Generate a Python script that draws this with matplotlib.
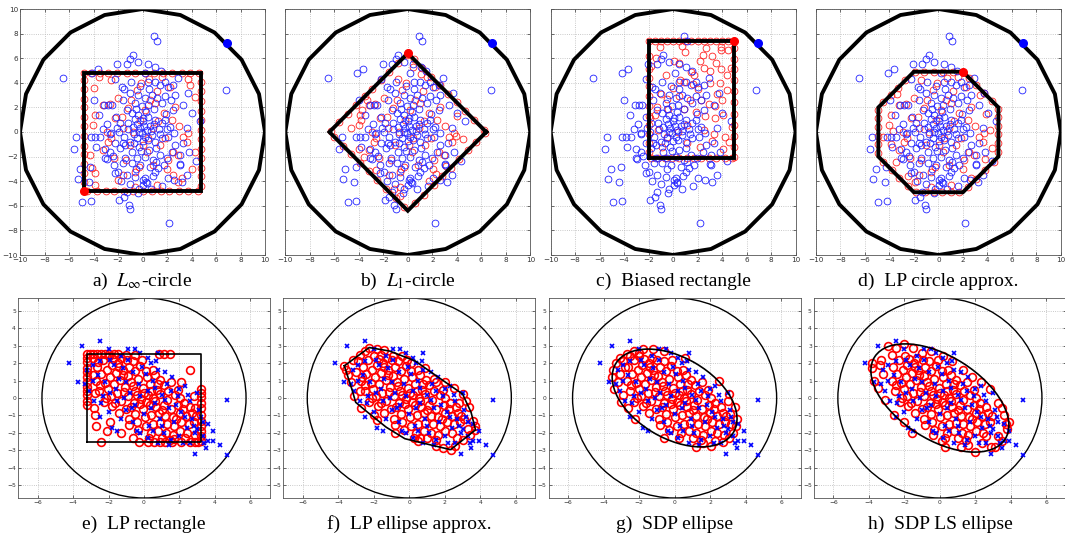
import numpy as np
import matplotlib.pyplot as plt
from matplotlib.patches import Circle, Ellipse

plt.rcParams['mathtext.fontset'] = 'stix'

# ---------------- top row: samples in the [-10, 10] box ----------------
top_blue = [
    (0.9, 7.8), (1.15, 7.4), (-0.8, 6.3), (-1.0, 5.95), (-0.35, 5.7), (-1.3, 5.5), (-2.05, 5.5),
    (0.45, 5.55), (1.05, 5.3), (-3.65, 5.1), (-4.15, 4.8), (-6.5, 4.35), (6.8, 3.4),
    (-5.4, -0.4), (-5.6, -1.4), (-5.1, -3.0), (-5.3, -3.8), (-4.4, -4.1), (-4.25, -2.85),
    (-4.9, -5.7), (-4.2, -5.6), (-1.9, -5.55), (-1.5, -5.3), (-1.3, -4.9), (-1.1, -5.95),
    (-1.0, -6.3), (-0.4, -4.95), (2.2, -7.4), (0.05, -4.3), (0.3, -4.05), (0.2, -3.7),
    (2.05, -3.75), (2.6, -3.9), (3.2, -4.1), (3.6, -3.5), (3.05, -2.6),
    (-0.94, 4.03), (-1.7, 3.68), (-1.48, 3.46), (0.48, 4.09), (1.02, 4.07), (1.43, 3.82),
    (1.84, 4.03), (2.06, 3.68), (2.52, 3.82), (2.66, 3.0), (4.02, 1.52), (3.34, 2.2),
    (2.52, 1.79), (-2.5, 2.2), (-2.79, 2.2), (-3.11, 2.21), (-0.34, 3.0), (-0.61, 2.33),
    (0.21, 2.73), (0.75, 3.0), (1.16, 2.73), (1.57, 2.33), (-1.29, 1.79), (-0.88, 1.51),
    (-0.34, 1.38), (0.07, 1.11), (0.48, 1.24), (1.02, 0.97), (1.57, 0.7), (1.84, 0.97),
    (2.25, 0.43), (-1.83, 0.7), (-2.1, 0.3), (-2.65, -0.19), (-3.47, -0.38), (-3.87, -0.38),
    (-4.2, -0.38), (-3.78, -1.22), (-3.06, -1.39), (-2.92, -2.2), (-2.6, -0.1), (-3.06, -2.14),
    (-2.65, -1.6), (-1.43, -1.06), (-1.02, -0.79), (-0.47, -0.52), (-0.07, -0.11), (0.34, 0.16),
    (0.75, -0.25), (1.02, -0.79), (1.57, -0.52), (2.11, -0.38), (2.66, -1.06), (3.06, -1.87),
    (3.06, -2.69), (1.98, -2.14), (1.43, -1.87), (0.89, -2.28), (0.21, -2.01), (-0.47, -2.14),
    (-0.88, -2.55), (-1.56, -2.55), (-1.97, -3.23), (-2.24, -3.36), (-1.29, -3.5), (-0.61, -3.64),
    (0.07, -3.91), (0.34, -4.18), (1.02, -3.23), (1.3, -2.96), (-1.02, -4.2),
    (-0.41, 0.62), (0.03, 0.88), (-0.22, 0.31), (0.42, -0.63), (-0.73, -0.18), (-1.18, 0.24),
    (-1.52, -0.41), (0.63, 0.52), (1.31, 0.27), (1.09, -1.33), (0.52, -1.48), (-0.28, -1.21),
    (-0.83, -1.62), (-1.81, -1.27), (-2.21, -0.88), (-1.92, 0.04), (-0.62, 1.02), (0.31, 1.63),
    (0.92, 1.88), (-0.08, 2.12), (-1.62, 2.61), (1.93, 1.47), (2.61, -0.12), (3.31, -0.88),
    (2.42, -1.63), (1.72, -2.71), (0.61, -2.83), (-0.19, -2.72), (-1.41, -2.08), (-2.42, -1.93),
    (-2.88, 0.62), (-1.03, 3.18), (0.52, 3.52), (1.83, 2.92), (3.62, 0.31), (3.81, -1.62),
    (-0.52, -3.02), (0.83, -3.61), (-1.72, -4.02), (-0.31, -4.62), (1.62, -4.38), (-3.52, 1.42),
    (-3.98, 2.61), (-2.22, 4.32), (0.18, 4.82), (1.52, 4.98), (2.91, 4.41), (3.72, 3.18),
    (4.38, -2.32), (4.71, 0.88), (-2.18, 1.22), (-0.68, -0.91), (0.22, -0.38), (0.71, 0.08),
    (-0.32, 0.02), (0.02, -0.71), (-1.21, 0.72), (-0.52, 1.83), (0.12, 0.52), (1.42, -0.18),
    (-1.62, -0.92), (-0.11, -1.52), (0.93, 0.61), (-0.81, 0.43), (2.02, 0.21), (0.41, 2.21),
    (-2.31, -2.71), (1.12, -2.41), (2.31, 2.61), (-3.22, 0.21), (-0.18, 3.71), (0.72, -4.62),
]
far_point = (6.9, 7.2)
outer_radius = 10.0
outer_sides = 20

# shared interior points of the symmetric solutions
red_top_core = [
    (-1.97, 2.73), (-2.65, 2.25), (-3.2, 2.2), (-3.87, 1.4), (-4.01, 0.57), (-2.92, 0.02),
    (-2.79, -0.79), (-3.2, -1.47), (-1.56, -3.5), (-0.61, -3.23), (-0.61, -4.45), (2.93, -1.87),
    (2.52, -1.6), (3.34, -0.38), (3.74, -0.11), (3.61, -0.79), (2.38, 0.97), (2.66, 2.06),
    (2.25, 3.68), (1.57, 4.5), (0.62, 2.6), (1.02, 2.33), (-0.47, 3.41), (0.21, 1.79),
    (-0.2, 0.97), (-0.75, 0.02), (-1.02, -1.06), (0.07, -1.06), (0.34, -1.6), (1.43, -1.06),
    (-2.24, 1.11), (-1.7, 1.24), (1.87, -0.46), (-1.38, -2.27), (0.83, -2.71), (1.72, 1.58),
    (-0.31, -2.84), (2.04, -3.02), (-2.33, -2.12), (0.88, 0.31), (-1.18, 1.96), (1.21, 3.37),
    (-2.58, -0.52), (3.02, 0.48), (-0.12, 4.02), (-1.6, 0.35), (0.45, -0.5), (1.3, 0.9),
    (-0.9, 2.6), (2.1, -2.3),
]

# a) square |x|, |y| <= 4.8
sq_half = 4.8
red_a = red_top_core + [
    (-3.52, 4.44), (3.88, 3.82), (4.29, 2.87), (-4.09, -2.96), (-3.87, -3.36), (-1.97, -3.91),
    (2.52, -3.5), (3.2, -3.77), (2.93, -4.04), (4.02, -3.0), (-4.0, 3.6), (3.7, 4.3),
    (-3.9, -4.3), (4.3, -1.6), (-4.3, -1.9), (1.2, -4.3), (-2.6, 4.2), (0.5, 4.3),
    (-4.8, 4.8), (-4.2, 4.8), (-3.5, 4.8), (-2.8, 4.8), (-2.1, 4.8), (-1.3, 4.8), (-0.6, 4.8),
    (0.2, 4.8), (0.9, 4.8), (1.7, 4.8), (2.4, 4.8), (3.2, 4.8), (3.9, 4.8), (4.6, 4.8),
    (-4.5, -4.8), (-3.7, -4.8), (-3.0, -4.8), (-2.3, -4.8), (-1.5, -4.8), (-0.8, -4.8),
    (0.0, -4.8), (0.8, -4.8), (1.5, -4.8), (2.2, -4.8), (3.0, -4.8), (3.7, -4.8), (4.5, -4.8),
    (-4.8, -4.1), (-4.8, -3.3), (-4.8, -2.6), (-4.8, -1.8), (-4.8, -1.1), (-4.8, -0.3),
    (-4.8, 0.5), (-4.8, 1.2), (-4.8, 2.0), (-4.8, 2.7), (-4.8, 3.5), (-4.8, 4.2),
    (4.8, -4.4), (4.8, -3.6), (4.8, -2.9), (4.8, -2.1), (4.8, -1.4), (4.8, -0.6),
    (4.8, 0.2), (4.8, 1.0), (4.8, 1.7), (4.8, 2.5), (4.8, 3.3), (4.8, 4.1),
]
dot_a = (-4.8, -4.8)

# b) diamond |x| + |y| <= 6.4
dia_r = 6.4
red_b = red_top_core + [
    (-3.8, 1.0), (-3.75, 1.8), (-3.3, 2.6), (-4.6, 0.3), (-4.0, -1.4), (-3.6, -2.0),
    (-2.6, -3.1), (-1.1, -4.6), (-0.6, -5.2), (3.9, -0.3), (4.5, -0.6), (3.1, -2.8),
    (2.3, -3.4), (1.1, 4.7), (-0.8, 4.3), (0.4, 5.3), (4.0, 1.3), (1.7, -4.0),
    (-6.3, 0.1), (-5.6, 0.8), (-4.9, 1.5), (-4.2, 2.2), (-3.5, 2.9), (-2.9, 3.5), (-2.2, 4.2),
    (-1.5, 4.9), (-0.8, 5.6), (-0.1, 6.3),
    (0.5, 5.9), (1.2, 5.2), (1.9, 4.5), (2.6, 3.8), (3.3, 3.1), (4.0, 2.4), (4.7, 1.7),
    (5.4, 1.0), (6.2, 0.2),
    (6.3, -0.1), (5.6, -0.8), (4.9, -1.5), (4.2, -2.2), (3.5, -2.9), (2.8, -3.6), (2.1, -4.3),
    (1.3, -5.1), (0.6, -5.8),
    (-0.3, -6.1), (-1.0, -5.4), (-1.8, -4.6), (-2.5, -3.9), (-3.2, -3.2), (-3.9, -2.5),
    (-4.6, -1.8), (-5.3, -1.1), (-6.0, -0.4),
]
dot_b = (0.0, 6.4)

# c) biased rectangle
rect_c = (-2.0, 5.0, -2.1, 7.4)
red_c = [
    (1.0, 6.5), (0.1, 5.8), (-1.36, 6.0), (-1.8, 5.4), (0.46, 5.6), (2.2, 5.8), (3.2, 6.2),
    (3.9, 6.7), (3.95, 6.9), (2.7, 6.8), (4.5, 6.7), (4.7, 5.2), (3.9, 5.1), (4.4, 4.6),
    (3.0, 5.0), (2.5, 5.2), (1.5, 4.9), (1.7, 4.6), (0.6, 4.2), (0.9, 4.1), (0.0, 3.6),
    (-1.0, 3.1), (2.0, 3.5), (3.0, 4.0), (3.8, 4.0), (4.4, 3.4), (3.6, 3.1), (4.0, 2.6),
    (3.4, 2.1), (2.9, 2.3), (2.3, 2.6), (1.4, 2.6), (0.5, 2.9), (-0.5, 2.7), (-1.3, 2.0),
    (-1.5, 1.4), (-0.4, 1.9), (0.9, 1.9), (1.9, 1.6), (2.6, 1.3), (3.4, 1.1), (4.1, 1.4),
    (4.8, 0.4), (4.2, -0.4), (3.3, -0.2), (2.5, 0.2), (1.1, 0.6), (0.4, 0.0), (-0.5, -0.4),
    (-1.2, 0.2), (-0.9, -1.2), (1.1, -0.9), (2.2, -1.2), (3.2, -0.7), (4.1, -1.4), (4.6, -0.8),
    (-1.85, 1.1), (1.6, 3.9), (-0.6, 4.6), (2.4, 6.3), (-1.1, 6.9), (0.7, 7.0), (3.5, 5.6),
    (-2.0, 7.4), (-1.5, 7.4), (-1.0, 7.4), (-0.5, 7.4), (0.0, 7.4), (0.5, 7.4), (1.0, 7.4),
    (1.5, 7.4), (2.0, 7.4), (2.5, 7.4), (3.0, 7.4), (3.5, 7.4), (4.0, 7.4), (4.5, 7.4),
    (-1.8, -2.1), (-1.2, -2.1), (-0.7, -2.1), (-0.1, -2.1), (0.5, -2.1), (1.1, -2.1),
    (1.7, -2.1), (2.3, -2.1), (2.9, -2.1), (3.5, -2.1), (4.2, -2.1), (4.8, -2.1),
    (-2.0, -1.6), (-2.0, -0.9), (-2.0, -0.2), (-2.0, 0.6), (-2.0, 1.3), (-2.0, 2.1),
    (-2.0, 2.9), (-2.0, 3.7), (-2.0, 4.4), (-2.0, 5.1), (-2.0, 6.2),
    (5.0, 6.8), (5.0, 5.9), (5.0, 5.1), (5.0, 4.2), (5.0, 3.3), (5.0, 2.4), (5.0, 1.5),
    (5.0, 0.6), (5.0, -0.3), (5.0, -1.2), (5.0, -2.0),
]
dot_c = (5.0, 7.4)

# d) octagon: |x|, |y| <= 4.9, |x| + |y| <= 6.9
oct_half, oct_cut = 4.9, 6.9
red_d = red_top_core + [
    (-3.7, 0.1), (-4.5, -0.4), (-3.9, -1.0), (-3.5, -2.4), (-2.5, -3.6), (-1.9, -4.1),
    (3.9, 1.5), (4.2, 0.2), (3.8, -2.2), (2.7, -3.7), (1.0, -4.3), (-1.4, 4.2), (0.7, 4.4),
    (3.4, 3.0), (-3.4, 3.1), (4.4, -1.3),
    (-1.9, 4.9), (-1.2, 4.9), (-0.4, 4.9), (0.4, 4.9), (1.2, 4.9),
    (-4.5, 2.4), (-3.9, 3.0), (-3.3, 3.6), (-2.7, 4.2),
    (-4.9, -1.7), (-4.9, -1.0), (-4.9, -0.3), (-4.9, 0.4), (-4.9, 1.1), (-4.9, 1.8),
    (-4.5, -2.4), (-3.8, -3.1), (-3.2, -3.7), (-2.5, -4.4),
    (-1.8, -4.9), (-1.1, -4.9), (-0.4, -4.9), (0.3, -4.9), (1.0, -4.9), (1.7, -4.9),
    (2.4, -4.5), (3.1, -3.8), (3.8, -3.1), (4.5, -2.4),
    (4.9, -1.6), (4.9, -0.9), (4.9, -0.2), (4.9, 0.5), (4.9, 1.2), (4.9, 1.9),
    (2.5, 4.4), (3.1, 3.8), (3.7, 3.2), (4.4, 2.5),
]
dot_d = (2.0, 4.9)

# ---------------- bottom row: samples in the [-7, 7] box ----------------
bot_blue = [
    (-4.2, 2.0), (-3.5, 3.0), (-2.5, 3.3), (-2.0, 2.8), (-1.9, 2.2), (-1.3, 2.4), (-0.9, 2.8),
    (-0.5, 2.8), (-0.2, 2.6), (0.2, 2.3), (0.8, 2.6), (0.4, 2.0), (-3.7, 0.9), (-3.2, 1.6),
    (-2.9, 1.9), (-2.6, 1.3), (-3.1, 0.4), (-2.8, -0.2), (-2.5, -1.1), (-2.4, -0.3), (-2.0, -0.8),
    (-1.8, -1.7), (-1.6, 0.5), (-1.4, 1.1), (-1.2, 1.7), (-1.0, 0.9), (-0.8, 0.3), (-0.6, 1.5),
    (-0.5, -0.4), (-0.3, 0.8), (-0.1, 1.8), (0.0, -0.9), (0.2, 0.4), (0.3, -1.6), (0.5, 1.0),
    (0.6, -0.3), (0.8, 1.6), (0.9, -1.2), (1.0, 0.2), (1.1, -2.0), (1.3, 0.8), (1.4, -0.6),
    (1.5, -2.4), (1.6, 1.2), (1.7, -1.4), (1.9, 0.1), (2.0, -2.2), (2.1, -0.8), (2.3, 0.7),
    (2.4, -1.7), (2.6, -0.2), (2.7, -1.2), (2.9, -2.0), (3.0, 0.3), (3.1, -0.7), (3.3, -1.4),
    (3.4, -2.6), (3.5, -2.9), (3.6, -2.45), (3.9, -1.9), (3.9, -2.45), (4.3, -2.7), (4.7, -3.3),
    (4.7, -0.1), (2.9, -3.2), (3.3, -2.2), (2.2, -2.6), (0.8, -2.6), (0.2, -2.3), (-0.2, -2.0),
    (-0.6, -1.4), (-1.0, -0.7), (-1.3, -1.2), (-1.5, -0.2), (-1.9, 0.3), (-2.2, 0.9), (-2.5, 2.1),
    (-1.7, 1.9), (-0.9, 2.2), (0.1, 1.4), (0.6, 0.6), (1.2, -0.1), (1.8, -0.4), (2.3, -1.1),
    (2.8, -1.6), (3.2, -1.1), (0.4, -0.6), (-0.2, 0.1), (-0.7, -0.6), (1.5, 0.4), (2.5, 0.2),
    (3.0, -1.8), (1.0, -1.6), (-0.4, -1.9), (-1.1, 0.0), (-2.3, 0.1), (-2.9, 1.0), (-3.3, 0.8),
    (0.7, 2.1), (1.2, 1.5), (2.0, 0.5), (1.4, -2.7), (0.5, -1.9), (-1.5, -1.9), (3.6, -1.5),
    (2.6, -2.6),
]
outer_r_bot = 5.75

# interior points shared by every bottom solution
red_bot_core = [
    (-2.63, 1.77), (-2.31, 2.18), (-1.98, 2.41), (-1.72, 2.27), (-2.42, 1.38), (-2.08, 1.63),
    (-1.83, 1.92), (-1.47, 2.03), (-1.28, 2.31), (-0.97, 2.18), (-2.71, 0.96), (-2.17, 0.88),
    (-1.92, 1.23), (-1.58, 1.41), (-1.21, 1.62), (-0.83, 1.79), (-0.61, 2.12), (-2.52, 0.38),
    (-2.03, 0.52), (-1.68, 0.81), (-1.33, 1.02), (-0.92, 1.28), (-0.48, 1.53), (-0.21, 1.82),
    (0.12, 1.58), (-2.27, -0.21), (-1.88, 0.12), (-1.52, 0.28), (-1.07, 0.61), (-0.72, 0.93),
    (-0.31, 1.08), (0.18, 1.22), (0.63, 1.31), (0.92, 1.03), (-1.78, -0.47), (-1.31, -0.18),
    (-0.88, 0.13), (-0.52, 0.42), (-0.07, 0.58), (0.33, 0.81), (0.72, 0.48), (1.13, 0.72),
    (1.38, 0.41), (-1.42, -0.88), (-1.02, -0.62), (-0.58, -0.31), (-0.17, -0.08), (0.22, 0.18),
    (0.53, 0.02), (0.91, 0.23), (1.28, -0.12), (1.72, 0.18), (2.03, -0.02), (-0.87, -1.18),
    (-0.48, -0.92), (-0.08, -0.61), (0.31, -0.38), (0.68, -0.52), (1.12, -0.38), (1.52, -0.62),
    (1.93, -0.41), (2.28, -0.28), (2.61, -0.52), (-0.42, -1.38), (0.03, -1.08), (0.42, -0.98),
    (0.82, -0.88), (1.21, -1.02), (1.63, -1.08), (2.02, -0.88), (2.38, -1.03), (2.72, -0.87),
    (0.12, -1.62), (0.51, -1.48), (0.88, -1.41), (1.32, -1.52), (1.71, -1.62), (2.11, -1.38),
    (2.52, -1.51), (2.83, -1.38), (0.38, -2.02), (0.81, -1.88), (1.22, -2.03), (1.61, -2.12),
    (2.03, -1.91), (2.41, -2.01), (1.02, -2.28), (1.48, -2.41), (-0.22, -0.32), (0.13, -0.21),
    (-0.41, 0.18), (0.02, 0.31), (0.41, 0.42), (-0.73, -0.52), (0.62, -0.18), (-1.13, 0.32),
    (1.02, -0.68), (-2.12, 0.02), (-0.31, -1.82), (-0.82, -1.58), (2.91, -1.02), (2.22, -0.61),
    (-1.62, -0.31), (-1.18, 1.31), (0.48, 1.62), (1.82, -1.22), (-0.12, 2.21), (1.52, 0.92),
    (-2.48, 0.72), (0.27, -2.28), (1.91, 0.48), (-1.41, 1.78), (-0.63, 0.68), (0.78, 0.83),
]

# e) rectangle |x| <= 3.2, |y| <= 2.55
rect_e = (-3.2, 3.2, -2.55, 2.55)
red_e = red_bot_core + [
    (-3.2, 2.55), (-3.2, 2.3), (-3.2, 2.05), (-3.2, 1.75), (-3.2, 1.5), (-3.2, 1.2), (-3.2, 0.9),
    (-3.2, 0.65), (-3.2, 0.4), (-3.2, 0.15), (-3.2, -0.15), (-3.2, -0.4),
    (-3.05, 2.55), (-2.85, 2.55), (-2.65, 2.55), (-2.45, 2.55), (-2.2, 2.55), (-1.95, 2.55),
    (-1.7, 2.55), (-1.45, 2.55), (0.85, 2.55), (1.1, 2.55), (1.45, 2.55),
    (3.2, 0.5), (3.2, 0.3), (3.2, 0.05), (3.2, -0.3), (3.2, -0.6), (3.2, -0.95), (3.2, -1.3),
    (3.2, -1.6), (3.2, -1.9), (3.2, -2.2), (3.2, -2.45),
    (-2.4, -2.55), (-0.3, -2.55), (0.2, -2.55), (0.55, -2.55), (0.9, -2.55), (1.2, -2.55),
    (1.6, -2.55), (2.1, -2.55), (2.6, -2.55), (2.85, -2.55), (3.05, -2.55),
    (-2.85, 2.3), (-2.6, 2.05), (-2.9, 1.3), (-2.75, 0.3), (-2.8, -0.55), (-2.75, -1.0),
    (-2.7, -1.6), (-2.1, -1.9), (2.6, 1.6), (2.1, 0.9), (2.8, 0.1), (2.9, -0.6), (2.85, -2.1),
    (2.3, -2.3), (-1.9, -1.4), (-1.3, -2.0), (-0.6, -2.3), (1.7, -2.35), (-0.5, 2.5), (-1.0, 2.45),
]

# f) polygonal ellipse approximation
poly_f = [
    (-3.66, 1.85), (-2.26, 2.9), (-1.11, 2.7), (0.33, 2.13), (1.47, 1.31), (3.0, 0.23),
    (3.48, -0.82), (3.73, -1.83), (2.33, -2.97), (1.09, -2.67), (-0.25, -2.34), (-1.3, -1.68),
    (-2.35, -0.82), (-3.02, -0.25), (-3.21, 0.42),
]
red_f = red_bot_core + [
    (-3.66, 1.85), (-3.3, 0.9), (-3.45, 1.3), (-3.55, 1.6), (-3.2, 2.2), (-2.8, 2.5),
    (-2.5, 2.7), (-2.26, 2.9), (-1.8, 2.82), (-1.4, 2.75), (-0.4, 2.42), (0.9, 1.72),
    (2.0, 0.93), (2.5, 0.58), (3.0, 0.23), (3.2, -0.2), (3.35, -0.5), (3.6, -1.3), (3.7, -1.6),
    (3.73, -1.83), (3.4, -2.1), (3.0, -2.42), (2.6, -2.75), (2.33, -2.97), (1.9, -2.86),
    (1.5, -2.77), (0.5, -2.5), (-0.8, -2.02), (-1.8, -1.27), (-2.7, -0.55), (-3.1, 0.1),
    (-3.0, 1.5), (-2.9, 2.1), (-2.65, 1.2), (-2.8, 0.4), (3.1, -1.2), (2.8, -0.3), (3.3, -1.8),
    (2.7, -2.3), (-1.6, 2.5), (-0.9, 2.4), (0.1, 2.0), (1.4, 1.1), (-2.0, -1.0), (0.6, -2.3),
]

# g) SDP ellipse: semi-axes 3.86 and 2.32, tilted -31 deg
ell_g = (3.86, 2.32, -31.0)
red_g = red_bot_core + [
    (-1.21, 2.8), (-1.77, 2.8), (-2.27, 2.72), (-2.7, 2.55), (-3.05, 2.31), (-3.31, 1.99),
    (-3.47, 1.61), (-3.52, 1.19), (-3.4, 0.49), (-3.04, -0.24), (-2.25, -1.19), (-0.6, -2.31),
    (1.21, -2.8), (2.03, -2.77), (2.7, -2.55), (3.05, -2.31), (3.31, -1.99), (3.47, -1.61),
    (3.52, -1.19), (3.4, -0.49), (3.04, 0.24), (2.48, 0.96), (0.6, 2.31), (-0.62, 2.72),
    (-2.9, 2.1), (-3.1, 1.4), (-3.2, 0.9), (-2.8, 1.8), (-2.5, 2.4), (-2.0, 2.6), (3.2, -1.5),
    (3.1, -0.9), (2.8, -2.1), (2.3, -2.5), (1.6, -2.6), (-2.9, 0.2), (-2.6, -0.6), (3.0, -0.2),
]

# h) SDP least-squares ellipse: semi-axes 4.37 and 2.39, tilted -33 deg
ell_h = (4.37, 2.39, -33.0)
red_h = red_bot_core + [
    (-3.8, 1.7), (-3.8, 2.0), (-3.7, 1.0), (-3.3, 2.2), (-2.9, 3.0), (-2.5, 2.9), (-2.0, 3.1),
    (-1.5, 2.9), (-1.0, 2.6), (-3.2, 1.4), (-3.5, 0.6), (-3.1, -0.1), (-2.6, -1.0), (-2.0, -1.4),
    (-1.6, -2.0), (-0.4, -2.1), (0.1, -2.5), (0.3, -2.8), (1.2, -2.8), (1.6, -2.7), (2.0, -3.1),
    (2.4, -2.6), (2.9, -2.8), (3.1, -2.8), (3.3, -2.2), (3.5, -2.5), (3.8, -1.8), (3.9, -1.4),
    (3.6, -1.0), (3.5, -0.6), (3.3, -0.3), (2.8, 0.5), (2.3, 0.9), (1.8, 1.2), (1.3, 1.6),
    (0.7, 2.1), (0.2, 2.4), (-0.5, 2.7), (-2.7, 2.5), (-3.4, 1.9), (3.7, -1.5), (2.6, -2.2),
]

captions_top = [r'a)  $L_\infty$-circle', r'b)  $L_1$-circle', 'c)  Biased rectangle',
                'd)  LP circle approx.']
captions_bot = ['e)  LP rectangle', 'f)  LP ellipse approx.', 'g)  SDP ellipse',
                'h)  SDP LS ellipse']

W, H = 1065, 539
fig = plt.figure(figsize=(W / 100, H / 100), dpi=100)


def px_axes(x0, y0, w, h):
    return fig.add_axes([x0 / W, 1 - (y0 + h) / H, w / W, h / H])


def matlab_style(ax, xlim, ylim, xticks, yticks, fs, ylabels=True):
    ax.set_xlim(*xlim)
    ax.set_ylim(*ylim)
    ax.set_xticks(xticks)
    ax.set_yticks(yticks)
    ax.grid(True, ls=':', color='#b8b8b8', lw=0.6)
    ax.set_axisbelow(True)
    ax.tick_params(direction='in', length=2, width=0.5, labelsize=fs, pad=1.5,
                   top=True, right=True, colors='#333333')
    if not ylabels:
        ax.tick_params(labelleft=False)
    for s in ax.spines.values():
        s.set_linewidth(0.6)
        s.set_color('#555555')


def closed(pts):
    pts = np.asarray(pts, dtype=float)
    return np.vstack([pts, pts[:1]])


def rect_pts(r):
    x0, x1, y0, y1 = r
    return [(x0, y0), (x1, y0), (x1, y1), (x0, y1)]


ang = np.pi / 2 + np.arange(outer_sides) * 2 * np.pi / outer_sides
outer_poly = np.c_[outer_radius * np.cos(ang), outer_radius * np.sin(ang)]

shape_a = rect_pts((-sq_half, sq_half, -sq_half, sq_half))
shape_b = [(dia_r, 0), (0, dia_r), (-dia_r, 0), (0, -dia_r)]
shape_c = rect_pts(rect_c)
c2 = oct_cut - oct_half
shape_d = [(c2, oct_half), (oct_half, c2), (oct_half, -c2), (c2, -oct_half),
           (-c2, -oct_half), (-oct_half, -c2), (-oct_half, c2), (-c2, oct_half)]

top_sets = [(shape_a, red_a, dot_a), (shape_b, red_b, dot_b),
            (shape_c, red_c, dot_c), (shape_d, red_d, dot_d)]
tb = np.array(top_blue)
for i, (shape, red, dot) in enumerate(top_sets):
    x0 = 20 + 265.3 * i
    ax = px_axes(x0, 9, 245, 246)
    matlab_style(ax, (-10, 10), (-10, 10), range(-10, 11, 2), range(-10, 11, 2), 5.2,
                 ylabels=(i == 0))
    r = np.array(red)
    ax.plot(r[:, 0], r[:, 1], 'o', mfc='none', mec='#ff2020', ms=4.9, mew=0.6)
    ax.plot(tb[:, 0], tb[:, 1], 'o', mfc='none', mec='#2020ff', ms=4.9, mew=0.6)
    p = closed(shape)
    ax.plot(p[:, 0], p[:, 1], 'k-', lw=2.8, solid_joinstyle='miter')
    op = closed(outer_poly)
    ax.plot(op[:, 0], op[:, 1], 'k-', lw=2.8)
    ax.plot(*far_point, 'o', color='b', ms=5.5)
    ax.plot(*dot, 'o', color='r', ms=5.5)
    fig.text((x0 + 122.5) / W, 1 - 281 / H, captions_top[i], ha='center', va='center',
             fontsize=14, family='Liberation Serif')

bb = np.array(bot_blue)
bot_sets = [('rect', rect_e, red_e), ('poly', poly_f, red_f),
            ('ell', ell_g, red_g), ('ell', ell_h, red_h)]
for i, (kind, shape, red) in enumerate(bot_sets):
    x0 = 18 + 265.3 * i
    ax = px_axes(x0, 298, 252, 200)
    matlab_style(ax, (-7.1, 7.1), (-5.75, 5.75), range(-6, 7, 2), range(-5, 6), 4.3)
    ax.add_patch(Circle((0, 0), outer_r_bot, fill=False, ec='k', lw=1.0))
    if kind == 'ell':
        a, b, t = shape
        ax.add_patch(Ellipse((0, 0), 2 * a, 2 * b, angle=t, fill=False, ec='k', lw=1.2, zorder=4))
    else:
        p = closed(rect_pts(shape) if kind == 'rect' else shape)
        ax.plot(p[:, 0], p[:, 1], 'k-', lw=1.2, zorder=4)
    r = np.array(red)
    ax.plot(r[:, 0], r[:, 1], 'o', mfc='none', mec='r', ms=5.6, mew=1.2, zorder=3)
    ax.plot(bb[:, 0], bb[:, 1], 'x', color='b', ms=2.8, mew=1.2, zorder=3)
    fig.text((x0 + 126) / W, 1 - 524 / H, captions_bot[i], ha='center', va='center',
             fontsize=14, family='Liberation Serif')

fig.savefig('out.png', dpi=100)
